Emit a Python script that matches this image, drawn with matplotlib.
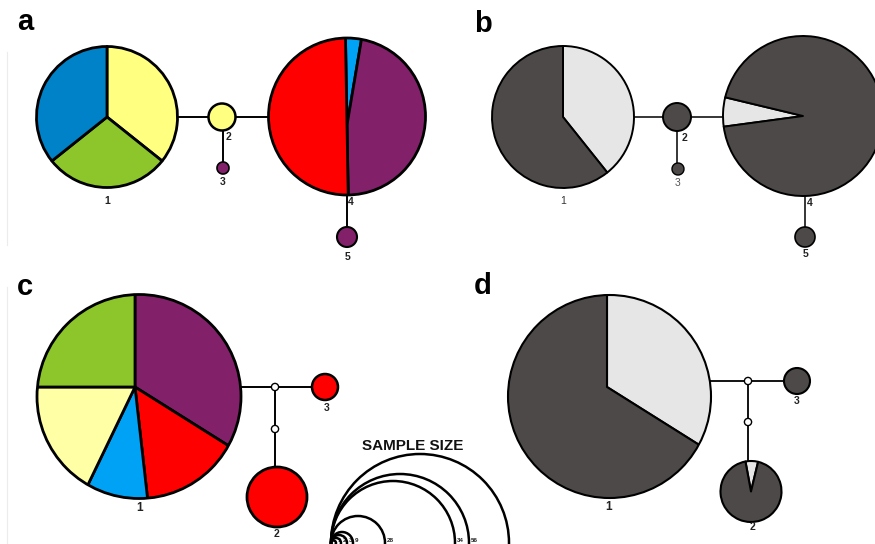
import matplotlib
matplotlib.use("Agg")
import matplotlib.pyplot as plt
from matplotlib.patches import Circle
from matplotlib.path import Path

# ---------------- data ----------------
panel_letters = ["a", "b", "c", "d"]

# panel a (haplotype counts per population colour)
a_h1 = [10, 8, 10]          # yellow, green, blue
a_h2 = [1]                  # yellow
a_h3 = [1]                  # purple
a_h4 = [1, 16, 17]          # light blue, purple, red
a_h5 = [1]                  # purple
# panel b (light / dark)
b_h1 = [11, 17]
b_h2 = [1]
b_h3 = [1]
b_h4 = [2, 32]
b_h5 = [1]
# panel c
c_h1 = [19, 8, 5, 10, 14]   # purple, red, blue, yellow, green
c_h2 = [9]
c_h3 = [1]
# panel d
d_h1 = [19, 37]
d_h2 = [1, 14]
d_h3 = [1]

legend_sizes = ["1", "2", "3", "9", "28", "34", "56", ""]

# ---------------- style ----------------
YEL = "#ffff80"; YEL2 = "#ffffa6"; GRN = "#8cc62a"; BLU = "#0082c8"
BLU2 = "#00a2f5"; PUR = "#82216a"; RED = "#ff0000"
DARK = "#4d4948"; LIGHT = "#e6e6e6"

W, H = 875, 544
plt.rcParams["font.family"] = ["Liberation Sans", "DejaVu Sans"]
fig = plt.figure(figsize=(W / 100, H / 100), dpi=100)
ax = fig.add_axes([0, 0, 1, 1])


def Y(y):
    return H - y


def node(counts, colors, x, y, r, start=90, lw=2.0, ccw=False):
    ax.pie(counts, colors=colors, startangle=start, counterclock=ccw,
           radius=r, center=(x, Y(y)), frame=True,
           wedgeprops=dict(edgecolor="black", linewidth=lw, joinstyle="round"))


def node_offset(counts, colors, apex, centre, r, start=90, lw=2.0):
    """Pie whose slices meet at an off-centre point, clipped to the circle."""
    wedges, _ = ax.pie(counts, colors=colors, startangle=start,
                       counterclock=False, radius=r * 1.3,
                       center=(apex[0], Y(apex[1])), frame=True,
                       wedgeprops=dict(edgecolor="black", linewidth=lw,
                                       joinstyle="round"))
    clip_path = Path.circle((centre[0], Y(centre[1])), r)
    for w in wedges:
        w.set_clip_on(True)
        w.set_clip_path(clip_path, ax.transData)
    ax.add_patch(Circle((centre[0], Y(centre[1])), r, facecolor="none",
                        edgecolor="black", lw=lw, zorder=2))


def line(x0, y0, x1, y1, lw=1.4):
    ax.plot([x0, x1], [Y(y0), Y(y1)], color="black", lw=lw, zorder=0.5,
            solid_capstyle="butt")


def dot(x, y, r=3.6):
    ax.add_patch(Circle((x, Y(y)), r, facecolor="white", edgecolor="black",
                        lw=1.0, zorder=5))


def lab(x, y, s, size=7.5, color="#222222", weight="bold"):
    ax.text(x, Y(y), s, ha="center", va="center", fontsize=size,
            color=color, fontweight=weight)


# ---------------- panel a ----------------
line(177, 117, 268, 117)
line(222.5, 117, 222.5, 168)
line(347, 194, 347, 237)
node(a_h1, [YEL, GRN, BLU], 107, 117, 70.5, start=90, lw=2.0)
node(a_h2, [YEL], 222, 117, 13.5, lw=1.8)
node(a_h3, [PUR], 223, 168, 6, lw=1.2)
node_offset(a_h4, [BLU2, PUR, RED], (347, 125), (347, 116.5), 78.5,
            start=91, lw=2.0)
node(a_h5, [PUR], 347, 237, 10, lw=1.5)
lab(107, 201, "1"); lab(229, 137, "2"); lab(223, 182, "3")
lab(351, 202, "4"); lab(348, 257, "5")

# ---------------- panel b ----------------
line(634, 117, 725, 117, lw=1.1)
line(677, 117, 677, 169, lw=1.1)
line(805, 196, 805, 237, lw=1.1)
node(b_h1, [LIGHT, DARK], 563, 117, 71, start=90, lw=1.4)
node(b_h2, [DARK], 677, 117, 14, lw=1.4)
node(b_h3, [DARK], 678, 169, 6, lw=1.0)
node(b_h4, [LIGHT, DARK], 803, 116, 80, start=166.5, lw=1.4, ccw=True)
node(b_h5, [DARK], 805, 237, 10, lw=1.2)
lab(563, 201, "1", weight="normal", color="#333333")
lab(685, 138, "2"); lab(678, 183, "3", weight="normal", color="#555555")
lab(810, 203, "4"); lab(806, 254, "5")

# ---------------- panel c ----------------
line(240, 387, 325, 387)
line(275, 387, 275, 468)
node_offset(c_h1, [PUR, RED, BLU2, YEL2, GRN], (135, 387), (139, 396.5), 102,
            start=90, lw=2.0)
node(c_h3, [RED], 325, 387, 13, lw=1.8)
node(c_h2, [RED], 277, 497, 30, lw=2.0)
dot(275, 387); dot(275, 429)
lab(140, 508, "1", size=8.5); lab(277, 534, "2"); lab(327, 408, "3")

# ---------------- panel d ----------------
line(710, 381, 797, 381, lw=1.3)
line(748, 381, 748, 462, lw=1.3)
node_offset(d_h1, [LIGHT, DARK], (607, 387), (609.5, 396.5), 101.5,
            start=90, lw=1.5)
node(d_h3, [DARK], 797, 381, 13, lw=1.5)
node(d_h2, [LIGHT, DARK], 751, 491.5, 30.5, start=100.5, lw=1.5)
dot(748, 381); dot(748, 422)
lab(609, 507, "1", size=8.5); lab(752, 527, "2"); lab(797, 401, "3")

# ---------------- sample size legend ----------------
ax.text(413, Y(450), "SAMPLE SIZE", ha="center", va="baseline",
        fontsize=11, fontweight="bold", color="#111111")
leg_r = [2.5, 5, 8, 11, 27, 62, 69, 89]
leg_left = 331
for s, r in zip(legend_sizes, leg_r):
    ax.add_patch(Circle((leg_left + r, Y(543)), r, facecolor="none",
                        edgecolor="black", lw=1.8, zorder=3))
    if s:
        ax.text(leg_left + 2 * r + 1.5, Y(541), s, ha="left", va="center",
                fontsize=4.5, fontweight="bold", color="#222222")

# faint frame lines at left
ax.plot([7, 7], [Y(52), Y(245)], color="#ececec", lw=0.8, zorder=0)
ax.plot([7, 7], [Y(287), Y(544)], color="#ececec", lw=0.8, zorder=0)

# ---------------- panel letters ----------------
for s, (x, y) in zip(panel_letters, [(17, 30), (474, 32), (17, 295), (474, 294)]):
    ax.text(x, Y(y), s, ha="left", va="baseline", fontsize=21,
            fontweight="bold", color="black")

ax.set_xlim(0, W)
ax.set_ylim(0, H)
ax.set_aspect("equal", adjustable="box")
ax.axis("off")
fig.savefig("out.png", dpi=100, facecolor="white")
